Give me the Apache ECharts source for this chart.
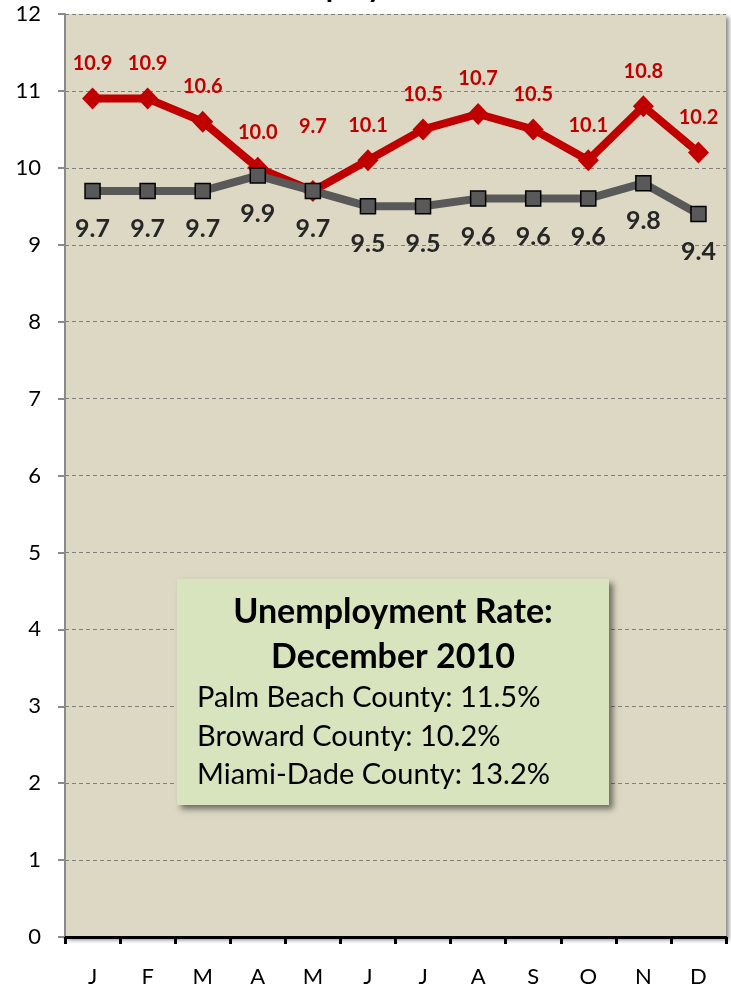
<!DOCTYPE html>
<html>
<head>
<meta charset="utf-8">
<script src="https://cdn.jsdelivr.net/npm/echarts@6/dist/echarts.min.js"></script>
<style>
html,body{margin:0;padding:0;background:#fff;}
#chart{width:731px;height:990px;}
</style>
</head>
<body>
<div id="chart"></div>
<script>
const months = ['J','F','M','A','M','J','J','A','S','O','N','D'];
const palmBeach = [10.9,10.9,10.6,10.0,9.7,10.1,10.5,10.7,10.5,10.1,10.8,10.2];
const broward = [9.7,9.7,9.7,9.9,9.7,9.5,9.5,9.6,9.6,9.6,9.8,9.4];
const boxTitle = ['Unemployment Rate:', 'December 2010'];
const boxLines = ['Palm Beach County: 11.5%', 'Broward County: 10.2%', 'Miami-Dade County: 13.2%'];

const FONT = 'Lato, "Open Sans", sans-serif';
const chart = echarts.init(document.getElementById('chart'), null, {renderer:'canvas'});

const redData = palmBeach.map((v,i) => ({
  value: v,
  label: { offset: [0, i === 4 ? -64 : -35] }
}));

const option = {
  animation: false,
  backgroundColor: '#ffffff',
  grid: {
    left: 65, right: 5, top: 14, bottom: 53,
    show: true,
    backgroundColor: '#ddd8c3',
    borderWidth: 0,
    shadowColor: 'rgba(0,0,0,0.45)',
    shadowBlur: 4,
    shadowOffsetX: 3,
    shadowOffsetY: 3
  },
  xAxis: {
    type: 'category',
    data: months,
    boundaryGap: true,
    axisLine: { show: true, lineStyle: { color: '#000', width: 3 } },
    axisTick: { show: true, length: 7, lineStyle: { color: '#000', width: 3 } },
    axisLabel: { color: '#000', fontSize: 22, fontFamily: FONT, margin: 29 },
    splitLine: { show: false }
  },
  yAxis: {
    type: 'value',
    min: 0, max: 12, interval: 1,
    axisLine: { show: true, lineStyle: { color: '#8a8a8a', width: 2 } },
    axisTick: { show: true, length: 7, lineStyle: { color: '#8a8a8a', width: 2 } },
    axisLabel: { color: '#000', fontSize: 22, fontFamily: FONT, margin: 24 },
    splitLine: { show: true, lineStyle: { color: '#7f7f7f', width: 1, type: [4, 3] } }
  },
  series: [
    {
      name: 'Palm Beach',
      type: 'line',
      data: redData,
      symbol: 'diamond',
      symbolSize: [21, 22],
      lineStyle: { color: '#c00000', width: 8 },
      itemStyle: { color: '#c00000' },
      label: {
        show: true, position: 'inside',
        color: '#c00000', fontSize: 20, fontWeight: 'bold', fontFamily: FONT,
        formatter: p => p.value.toFixed(1)
      },
      z: 3
    },
    {
      name: 'Broward',
      type: 'line',
      data: broward,
      symbol: 'rect',
      symbolSize: 15,
      lineStyle: { color: '#595959', width: 8 },
      itemStyle: { color: '#595959', borderColor: '#000', borderWidth: 1.5 },
      label: {
        show: true, position: 'inside', offset: [0, 38],
        color: '#262626', fontSize: 25, fontWeight: 'bold', fontFamily: FONT,
        formatter: p => p.value.toFixed(1)
      },
      z: 4
    }
  ],
  graphic: [
    {
      type: 'text',
      left: 246, top: -28,
      style: { text: 'Unemployment Rate', font: 'bold 30px ' + FONT, fill: '#000' }
    },
    {
      type: 'rect', z: 100,
      shape: { x: 177, y: 579, width: 432, height: 226 },
      style: { fill: '#d7e4bd', shadowBlur: 6, shadowOffsetX: 4, shadowOffsetY: 4, shadowColor: 'rgba(0,0,0,0.5)' }
    },
    {
      type: 'text', z: 101, x: 393, y: 612,
      style: { text: boxTitle[0], font: 'bold 34px ' + FONT, fill: '#000', align: 'center', verticalAlign: 'middle' }
    },
    {
      type: 'text', z: 101, x: 393, y: 657,
      style: { text: boxTitle[1], font: 'bold 34px ' + FONT, fill: '#000', align: 'center', verticalAlign: 'middle' }
    },
    ...boxLines.map((t, i) => ({
      type: 'text', z: 101, x: 197, y: 698 + i * 38.5,
      style: { text: t, font: '29px ' + FONT, fill: '#000', align: 'left', verticalAlign: 'middle' }
    }))
  ]
};
chart.setOption(option);
</script>
</body>
</html>
